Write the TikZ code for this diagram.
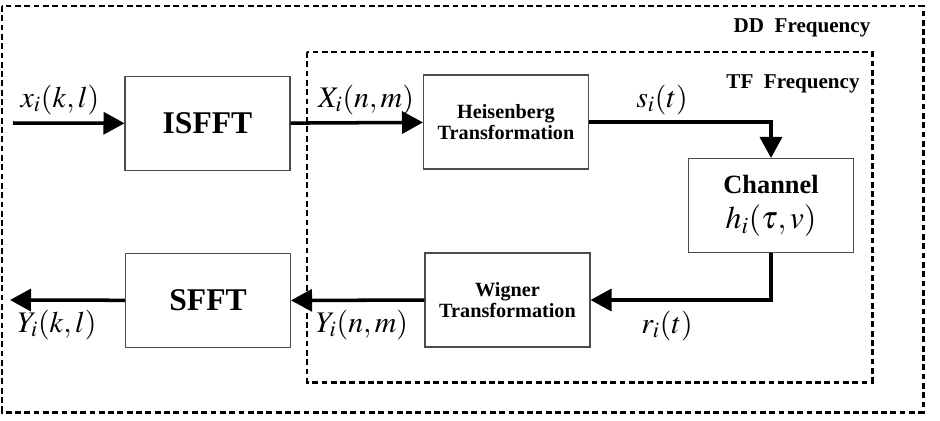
\documentclass[tikz,border=0pt]{standalone}
\usepackage{mathptmx}
\usepackage{fontspec}
\setmainfont{Liberation Serif}
\usetikzlibrary{arrows.meta}
\tikzstyle{block} = [rectangle, minimum width=3.3cm, minimum height=1.88cm, text centered, draw=black!70, line width=0.6pt, fill=white, font=\bfseries]
\tikzstyle{flow} = [line width=2pt, -{Triangle[length=0.42cm,width=0.44cm]}]
\tikzstyle{freqbox} = [line width=1.7pt, dash pattern=on 3.3pt off 2pt]
\tikzstyle{sig} = [font=\fontsize{17}{20}\selectfont]

\begin{document}
\begin{tikzpicture}[x=0.02cm, y=-0.02cm]
		\useasboundingbox (0,0) rectangle (940,420);
		% frequency domains
		\draw[freqbox] (2,6) rectangle (923,412);
		\draw[freqbox] (307,52) rectangle (872,382);
		\node (dd) at (802,28) {\bfseries\fontsize{12}{14}\selectfont DD\ \ Frequency};
		\node (tf) at (793,84) {\bfseries\fontsize{12}{14}\selectfont TF\ \ Frequency};

		\node (isfft) [block, font=\bfseries\fontsize{18}{20}\selectfont] at (207.5,123.5) {ISFFT};
		\node (heis) [block, font=\bfseries\fontsize{11.5}{11.5}\selectfont, align=center] at (506,122) {Heisenberg\\Transformation};
		\node (chan) [block, font=\bfseries\fontsize{15}{18}\selectfont, align=center] at (771,205.5) {Channel\\[2pt]\fontsize{18}{20}\selectfont$h_i(\tau,v)$};
		\node (wig) [block, font=\bfseries\fontsize{11.5}{11.5}\selectfont, align=center] at (507.5,300) {Wigner\\Transformation};
		\node (sfft) [block, font=\bfseries\fontsize{18}{20}\selectfont] at (208,300.5) {SFFT};

		\coordinate (in) at (13,123);
		\coordinate (out) at (10,300);

		\draw [flow] (in) -- (isfft);
		\draw [flow] (isfft) -- (heis);
		\draw [flow] (heis.east) -| (chan.north);
		\draw [flow] (chan.south) |- (wig.east);
		\draw [flow] (wig) -- (sfft);
		\draw [flow] (sfft) -- (out);

		\node (xkl) [sig] at (60,100) {$x_i(k,l)$};
		\node (xnm) [sig] at (366,100) {$X_i(n,m)$};
		\node (st) [sig] at (662,100) {$s_i(t)$};
		\node (rt) [sig] at (667,326) {$r_i(t)$};
		\node (ynm) [sig] at (362,325) {$Y_i(n,m)$};
		\node (ykl) [sig] at (57,325) {$Y_i(k,l)$};
	  \end{tikzpicture}
\end{document}
